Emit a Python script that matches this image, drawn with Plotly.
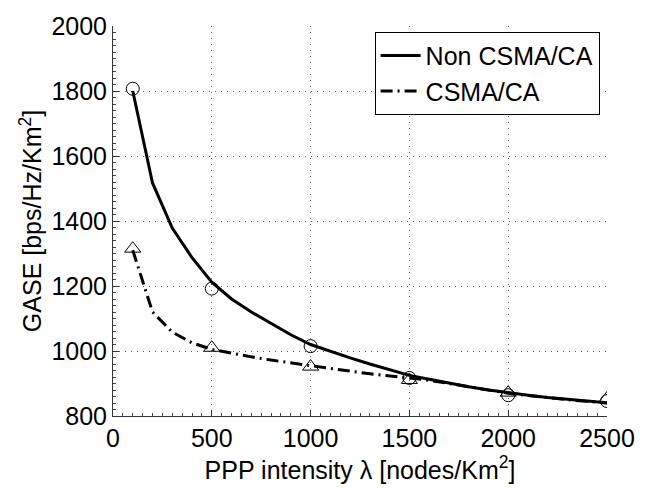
import plotly.graph_objects as go

# Analytical curves (sampled every 100 nodes/Km^2)
lam_curve = [100, 200, 300, 400, 500, 600, 700, 800, 900, 1000, 1100, 1200, 1300,
             1400, 1500, 1600, 1700, 1800, 1900, 2000, 2100, 2200, 2300, 2400, 2500]
non_csma_curve = [1800, 1517, 1378, 1287, 1212, 1160, 1120, 1085, 1050, 1020, 999, 979, 960,
                  943, 925, 913, 901, 890, 880, 871, 864, 857, 851, 846, 841]
csma_curve = [1310, 1120, 1058, 1025, 1005, 993, 982, 972, 963, 954, 946, 938, 930,
              924, 918, 910, 900, 890, 880, 870, 863, 856, 850, 845, 840]

# Simulation points
lam_sim = [100, 500, 1000, 1500, 2000, 2500]
non_csma_sim = [1807, 1192, 1015, 917, 864, 846]
csma_sim = [1315, 1010, 952, 911, 872, 854]

x_ticks = [0, 500, 1000, 1500, 2000, 2500]
y_ticks = [800, 1000, 1200, 1400, 1600, 1800, 2000]

FONT = "Liberation Sans, Arial, sans-serif"
FS = 25

fig = go.Figure()
fig.add_trace(go.Scatter(x=lam_curve, y=non_csma_curve, mode="lines", name="Non CSMA/CA",
                         line=dict(color="black", width=3)))
fig.add_trace(go.Scatter(x=lam_curve, y=csma_curve, mode="lines", name="CSMA/CA",
                         line=dict(color="black", width=3, dash="12px,5px,2px,5px")))
fig.add_trace(go.Scatter(x=lam_sim, y=non_csma_sim, mode="markers", showlegend=False,
                         marker=dict(symbol="circle-open", size=13, color="black",
                                     line=dict(width=1, color="black"))))
fig.add_trace(go.Scatter(x=lam_sim, y=csma_sim, mode="markers", showlegend=False,
                         marker=dict(symbol="triangle-up-open", size=14, color="black",
                                     line=dict(width=1, color="black"))))

axis_common = dict(
    showline=True, linecolor="#333333", linewidth=1,
    ticks="inside", ticklen=6, tickcolor="#333333",
    showgrid=True, gridcolor="rgba(0,0,0,0.6)", griddash="1px,5px", gridwidth=1,
    zeroline=False, mirror=False,
    tickfont=dict(family=FONT, size=FS, color="black"),
)

fig.update_xaxes(range=[0, 2500], tickvals=x_ticks, ticktext=[str(v) for v in x_ticks],
                 title=dict(text="PPP intensity λ [nodes/Km<sup>2</sup>]",
                            font=dict(family=FONT, size=FS, color="black"), standoff=6),
                 minor=dict(ticks="inside", ticklen=3, dtick=50, tickcolor="#444444",
                            tickwidth=1, showgrid=False),
                 **axis_common)
fig.update_yaxes(range=[800, 2000], tickvals=y_ticks, ticktext=[str(v) for v in y_ticks],
                 title=dict(text="GASE [bps/Hz/Km<sup>2</sup>]",
                            font=dict(family=FONT, size=FS, color="black"), standoff=2),
                 minor=dict(ticks="inside", ticklen=3, dtick=20, tickcolor="#444444",
                            tickwidth=1, showgrid=False),
                 **axis_common)

fig.update_layout(
    width=647, height=488,
    margin=dict(l=113, r=31, t=21, b=71),
    paper_bgcolor="white", plot_bgcolor="white",
    font=dict(family=FONT, size=FS, color="black"),
    legend=dict(x=0.985, y=0.985, xanchor="right", yanchor="top",
                bgcolor="white", bordercolor="black", borderwidth=1,
                font=dict(family=FONT, size=FS, color="black"),
                tracegroupgap=0, itemwidth=40),
    showlegend=True,
)

fig.write_html("out.html")
